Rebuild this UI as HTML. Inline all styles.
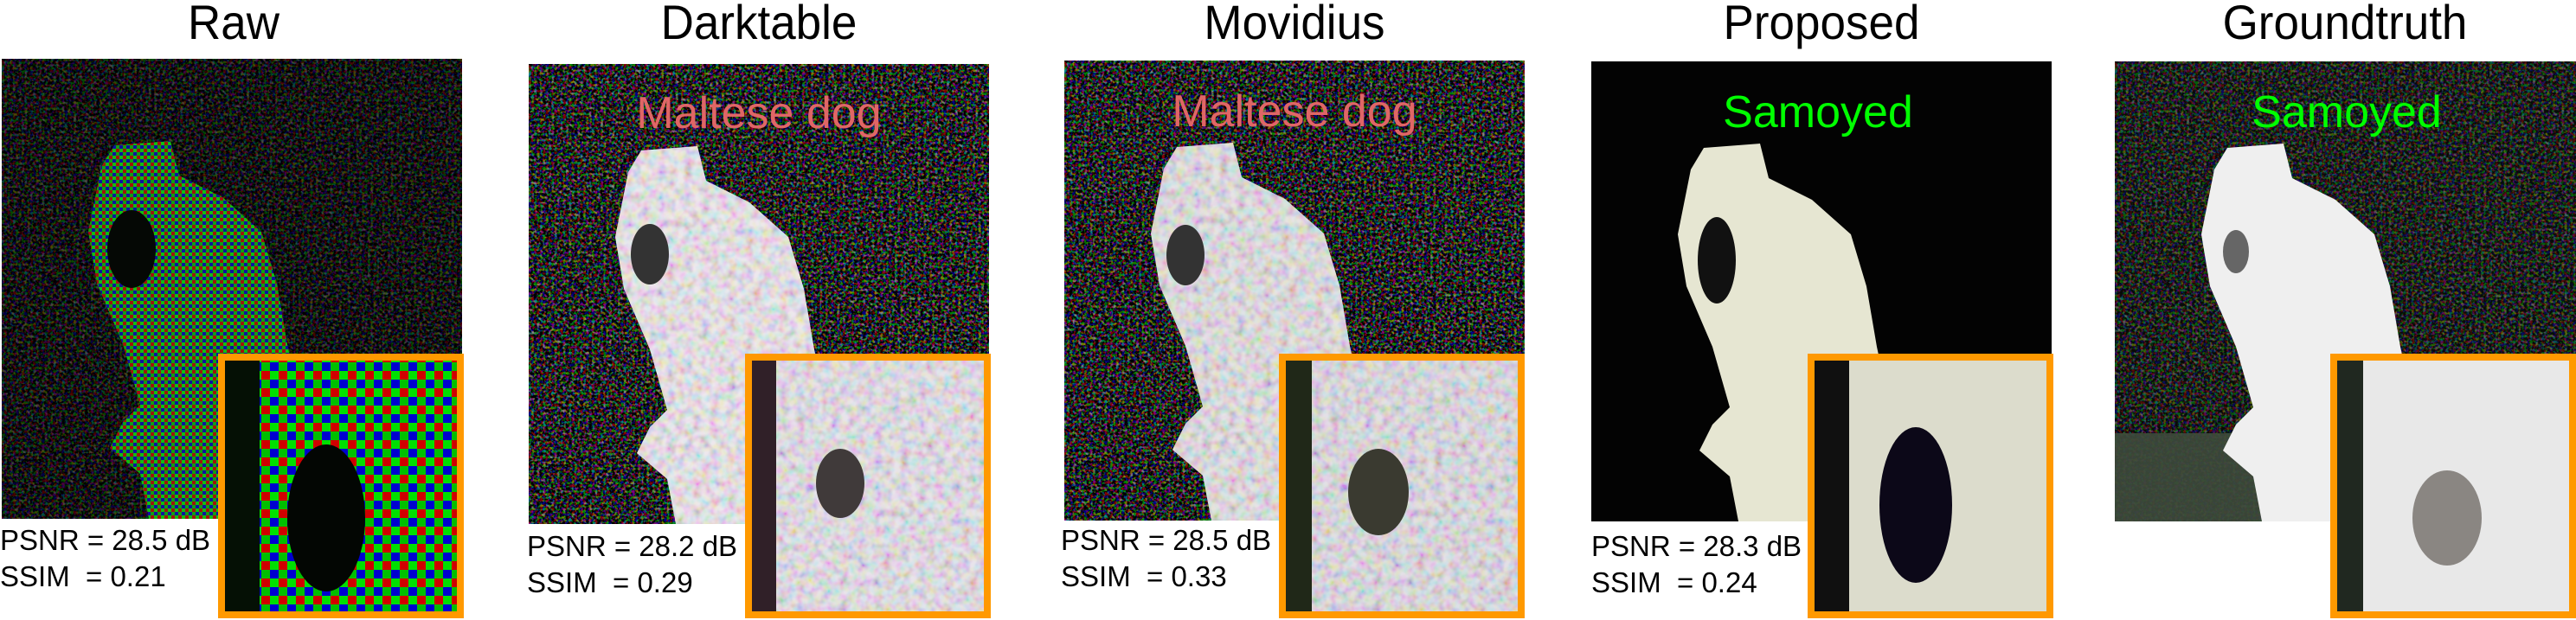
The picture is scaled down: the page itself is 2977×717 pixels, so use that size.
<!DOCTYPE html>
<html><head><meta charset="utf-8"><style>
html,body{margin:0;padding:0;background:#fff;}
body{width:2977px;height:717px;position:relative;overflow:hidden;font-family:"Liberation Sans",sans-serif;}
.title{position:absolute;top:-4px;font-size:53px;color:#000;text-align:center;width:600px;transform:scaleY(1.05);}
.metric{position:absolute;font-size:33px;color:#000;line-height:42px;white-space:pre;}
svg{position:absolute;}
</style></head><body>
<svg width="0" height="0" style="position:absolute">
<defs>
<pattern id="bayer" width="20" height="20" patternUnits="userSpaceOnUse">
<rect width="20" height="20" fill="#000"/>
<rect x="0" y="0" width="10" height="10" fill="#00e000"/>
<rect x="10" y="10" width="10" height="10" fill="#00c000"/>
<rect x="10" y="0" width="10" height="10" fill="#d00000"/>
<rect x="0" y="10" width="10" height="10" fill="#0000d0"/>
</pattern>
<pattern id="bayerSmall" width="8" height="8" patternUnits="userSpaceOnUse">
<rect width="8" height="8" fill="#000"/>
<rect x="0" y="0" width="4" height="4" fill="#10c010"/>
<rect x="4" y="4" width="4" height="4" fill="#10a010"/>
<rect x="4" y="0" width="4" height="4" fill="#a01010"/>
<rect x="0" y="4" width="4" height="4" fill="#1010a0"/>
</pattern>
<filter id="speck" filterUnits="userSpaceOnUse" x="0" y="0" width="600" height="600"><feTurbulence type="fractalNoise" baseFrequency="0.3" numOctaves="2" seed="3"/><feColorMatrix type="matrix" values="4 0 0 0 -2  0 4 0 0 -2  0 0 4 0 -2  0 0 0 0 1"/></filter>
<filter id="speckLight" filterUnits="userSpaceOnUse" x="0" y="0" width="600" height="600"><feTurbulence type="fractalNoise" baseFrequency="0.1" numOctaves="2" seed="7"/><feColorMatrix type="matrix" values="2 0 0 0 -0.3  0 2 0 0 -0.3  0 0 2 0 -0.3  0 0 0 0 0.35"/></filter>
<path id="dog" d="M115,125 L130,100 L195,95 L205,135 L255,160 L300,200 L318,260 L330,330 L345,400 L360,470 L380,532 L170,532 L160,480 L125,450 L140,420 L160,400 L140,330 L110,260 L100,200 Z"/>
<clipPath id="dogclip"><use href="#dog"/></clipPath>
</defs>
</svg>

<div class="title" style="left:-30px">Raw</div>
<div class="title" style="left:577px">Darktable</div>
<div class="title" style="left:1196px">Movidius</div>
<div class="title" style="left:1805px">Proposed</div>
<div class="title" style="left:2410px">Groundtruth</div>

<!-- Raw -->
<svg style="left:2px;top:68px" width="532" height="532" viewBox="0 0 532 532">
<rect width="532" height="532" fill="#000"/>
<rect width="532" height="532" filter="url(#speck)" opacity="0.3"/>
<use href="#dog" fill="url(#bayerSmall)"/>
<ellipse cx="150" cy="220" rx="28" ry="45" fill="#050805"/>
</svg>
<svg style="left:252px;top:409px" width="284" height="306" viewBox="0 0 284 306">
<rect width="284" height="306" fill="url(#bayer)"/>
<rect x="8" y="8" width="40" height="290" fill="#051005"/>
<ellipse cx="125" cy="190" rx="45" ry="85" fill="#030603"/>
<rect x="4" y="4" width="276" height="298" fill="none" stroke="#ff9900" stroke-width="8"/>
</svg>
<div class="metric" style="left:0px;top:604px">PSNR = 28.5 dB
SSIM  = 0.21</div>

<!-- Darktable -->
<svg style="left:611px;top:74px" width="532" height="532" viewBox="0 0 532 532">
<rect width="532" height="532" fill="#000"/>
<rect width="532" height="532" filter="url(#speck)" opacity="0.55"/>
<use href="#dog" fill="#e4dce4"/>
<rect width="532" height="532" filter="url(#speckLight)" clip-path="url(#dogclip)"/>
<ellipse cx="140" cy="220" rx="22" ry="35" fill="#333"/>
<text x="266" y="74" text-anchor="middle" font-family="Liberation Sans, sans-serif" font-size="52" fill="#e06666">Maltese dog</text>
</svg>
<svg style="left:861px;top:409px" width="284" height="306" viewBox="0 0 284 306">
<rect width="284" height="306" fill="#dcd6e0"/>
<rect width="284" height="306" filter="url(#speckLight)"/>
<rect x="8" y="8" width="28" height="290" fill="#302028"/>
<ellipse cx="110" cy="150" rx="28" ry="40" fill="#403a3a"/>
<rect x="4" y="4" width="276" height="298" fill="none" stroke="#ff9900" stroke-width="8"/>
</svg>
<div class="metric" style="left:609px;top:611px">PSNR = 28.2 dB
SSIM  = 0.29</div>

<!-- Movidius -->
<svg style="left:1230px;top:70px" width="532" height="532" viewBox="0 0 532 532">
<rect width="532" height="532" fill="#000"/>
<rect width="532" height="532" filter="url(#speck)" opacity="0.55"/>
<use href="#dog" fill="#d8d4d8"/>
<rect width="532" height="532" filter="url(#speckLight)" clip-path="url(#dogclip)"/>
<ellipse cx="140" cy="225" rx="22" ry="35" fill="#333"/>
<text x="266" y="76" text-anchor="middle" font-family="Liberation Sans, sans-serif" font-size="52" fill="#e06666">Maltese dog</text>
</svg>
<svg style="left:1478px;top:409px" width="284" height="306" viewBox="0 0 284 306">
<rect width="284" height="306" fill="#d4d0d8"/>
<rect width="284" height="306" filter="url(#speckLight)"/>
<rect x="8" y="8" width="30" height="290" fill="#202818"/>
<ellipse cx="115" cy="160" rx="35" ry="50" fill="#3a3a30"/>
<rect x="4" y="4" width="276" height="298" fill="none" stroke="#ff9900" stroke-width="8"/>
</svg>
<div class="metric" style="left:1226px;top:604px">PSNR = 28.5 dB
SSIM  = 0.33</div>

<!-- Proposed -->
<svg style="left:1839px;top:71px" width="532" height="532" viewBox="0 0 532 532">
<rect width="532" height="532" fill="#030303"/>
<use href="#dog" fill="#e6e6d2"/>
<ellipse cx="145" cy="230" rx="22" ry="50" fill="#111"/>
<text x="262" y="76" text-anchor="middle" font-family="Liberation Sans, sans-serif" font-size="52" fill="#00ff00">Samoyed</text>
</svg>
<svg style="left:2089px;top:409px" width="284" height="306" viewBox="0 0 284 306">
<rect width="284" height="306" fill="#dcdccc"/>
<rect x="8" y="8" width="40" height="290" fill="#101010"/>
<ellipse cx="125" cy="175" rx="42" ry="90" fill="#0c0818"/>
<rect x="4" y="4" width="276" height="298" fill="none" stroke="#ff9900" stroke-width="8"/>
</svg>
<div class="metric" style="left:1839px;top:611px">PSNR = 28.3 dB
SSIM  = 0.24</div>

<!-- Groundtruth -->
<svg style="left:2444px;top:71px" width="533" height="532" viewBox="0 0 533 532">
<rect width="533" height="532" fill="#0c120c"/>
<rect width="533" height="532" filter="url(#speck)" opacity="0.35"/>
<rect x="0" y="430" width="533" height="102" fill="#3e4a3c" opacity="0.9"/>
<use href="#dog" fill="#efefef"/>
<ellipse cx="140" cy="220" rx="15" ry="25" fill="#666"/>
<text x="268" y="76" text-anchor="middle" font-family="Liberation Sans, sans-serif" font-size="52" fill="#00ff00">Samoyed</text>
</svg>
<svg style="left:2693px;top:409px" width="284" height="306" viewBox="0 0 284 306">
<rect width="284" height="306" fill="#e8e8e8"/>
<rect x="8" y="8" width="30" height="290" fill="#202820"/>
<ellipse cx="135" cy="190" rx="40" ry="55" fill="#8a8682"/>
<rect x="4" y="4" width="276" height="298" fill="none" stroke="#ff9900" stroke-width="8"/>
</svg>
</body></html>
